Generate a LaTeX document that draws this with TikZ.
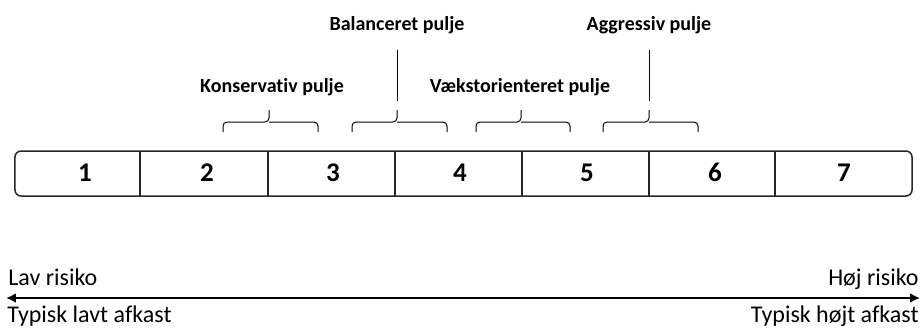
\documentclass[tikz,border=0pt]{standalone}
\usepackage{fontspec}
\setmainfont{Carlito}[Ligatures=NoCommon]
\usepackage{tikz}
\usetikzlibrary{arrows.meta,positioning}

\begin{document}
\begin{tikzpicture}[x=50pt, y=50pt,
    poolnode/.style={inner sep=0pt, font=\fontsize{10}{12}\selectfont\bfseries},
    classnode/.style={inner sep=0pt, font=\fontsize{13.5}{16}\selectfont\bfseries},
    risknode/.style={inner sep=0pt, font=\fontsize{12}{14}\selectfont}]

    \useasboundingbox (0,0) rectangle (9.21,3.29);

    % risk classes 1 .. 7
    \draw[line width=0.75pt, black!85, rounded corners=3pt] (0.15,1.33) rectangle (9.12,1.78);
    \foreach \x in {1.40,2.68,3.95,5.22,6.49,7.75}
        \draw[line width=0.6pt, black!85] (\x,1.33) -- (\x,1.78);
    \foreach \x [count=\ni] in {0.85,2.07,3.33,4.60,5.87,7.15,8.44}
        \node[classnode](c\ni) at (\x,1.565) {\ni};

    % pools
    \foreach \a/\m/\b [count=\ni] in {2.23/2.69/3.18, 3.52/3.97/4.47, 4.76/5.21/5.70, 6.03/6.49/6.98} {
        \draw[line width=0.5pt, rounded corners=2pt] (\a,1.97) -- (\a,2.07) -- (\m,2.07) -- (\m,2.19);
        \draw[line width=0.5pt, rounded corners=2pt] (\b,1.97) -- (\b,2.07) -- (\m,2.07);
        \coordinate (p\ni) at (\m,2.19);
    }

    \node[poolnode](kon) at (2.72,2.42) {Konservativ pulje};
    \node[poolnode](bal) at (3.97,3.04) {Balanceret pulje};
    \node[poolnode](vaek) at (5.20,2.42) {Vækstorienteret pulje};
    \node[poolnode](agg) at (6.49,3.04) {Aggressiv pulje};

            \draw[line width=0.5pt, shorten <=12.5pt, shorten >=4.5pt] (bal.center) -- (p2);
            \draw[line width=0.5pt, shorten <=12.5pt, shorten >=4.5pt] (agg.center) -- (p4);

    % risk axis
    \coordinate (lo) at (0.06,0.31);
    \coordinate (hi) at (9.20,0.31);
    \draw[line width=1.4pt, {Latex[length=5pt,width=5pt]}-{Latex[length=5pt,width=5pt]}] (lo) -- (hi);

    \node[risknode, anchor=base west](lowrisk) at (0.08,0.44) {Lav risiko};
    \node[risknode, anchor=base east](highrisk) at (9.19,0.44) {Høj risiko};
    \node[risknode, anchor=base west](lowret) at (0.07,0.065) {Typisk lavt afkast};
    \node[risknode, anchor=base east](highret) at (9.19,0.065) {Typisk højt afkast};

\end{tikzpicture}
\end{document}
